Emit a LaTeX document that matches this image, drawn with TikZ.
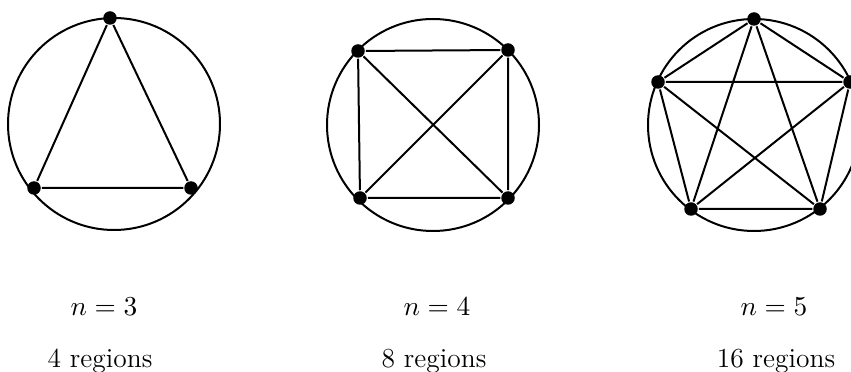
\documentclass[tikz,border=0pt]{standalone}
\usepackage{amssymb}
\usepackage{tikz}

\begin{document}
\begin{tikzpicture}[x=0.4pt,y=-0.4pt,thick,
    pt/.style={circle,fill,inner sep=0pt,minimum size=5.4pt},
    lbl/.style={anchor=base,font=\fontsize{11}{13}\selectfont}]
    \useasboundingbox (0,0) rectangle (851,372);

    % n = 3
    \draw (114,124) circle (106);
    \node[pt] (a1) at (110,18) {};
    \node[pt] (a2) at (34,188) {};
    \node[pt] (a3) at (191,188) {};
    \draw (a1)--(a2)--(a3)--(a1);

    % n = 4
    \draw (433,125) circle (106);
    \node[pt] (b1) at (358,51) {};
    \node[pt] (b2) at (508,50) {};
    \node[pt] (b3) at (508,198) {};
    \node[pt] (b4) at (360,198) {};
    \draw (b1)--(b2)--(b3)--(b4)--(b1);
    \draw (b1)--(b3);
    \draw (b2)--(b4);

    % n = 5
    \draw (754,125) circle (106);
    \node[pt] (c1) at (754,19) {};
    \node[pt] (c2) at (850,82) {};
    \node[pt] (c3) at (820,209) {};
    \node[pt] (c4) at (691,209) {};
    \node[pt] (c5) at (658,82) {};
    \draw (c1)--(c2)--(c3)--(c4)--(c5)--(c1);
    \draw (c1)--(c3)--(c5)--(c2)--(c4)--(c1);

    \node[lbl] (n3) at (104,315) {$n=3$};
    \node[lbl] (n4) at (437,315) {$n=4$};
    \node[lbl] (n5) at (774,315) {$n=5$};
    \node[lbl] (r3) at (100,367) {4 regions};
    \node[lbl] (r4) at (434,367) {8 regions};
    \node[lbl] (r5) at (776,367) {16 regions};
\end{tikzpicture}
\end{document}
